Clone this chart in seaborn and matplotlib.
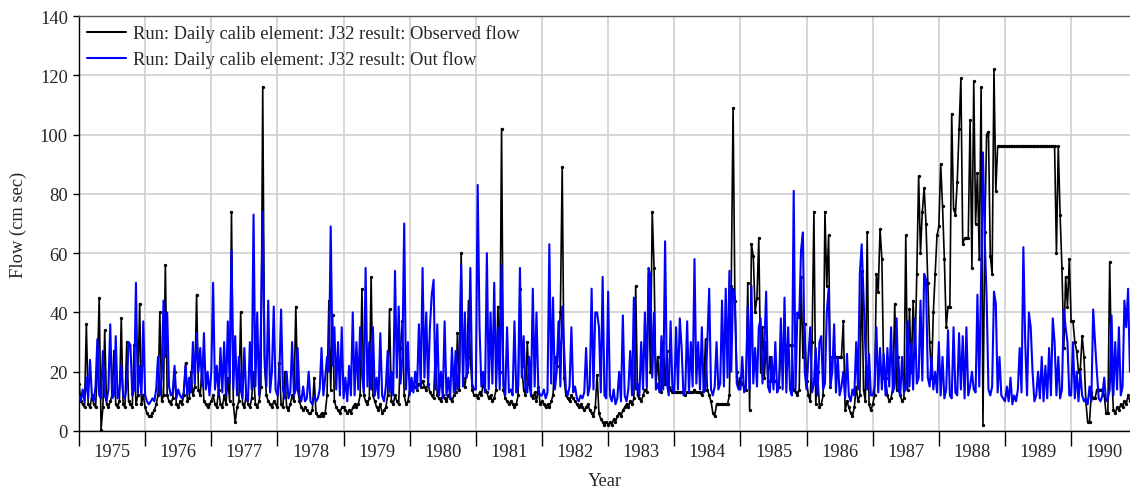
import numpy as np
import pandas as pd
import matplotlib
matplotlib.use("Agg")
import matplotlib.pyplot as plt
from matplotlib.lines import Line2D
from matplotlib.ticker import FixedLocator, NullFormatter, FixedFormatter
import seaborn as sns

# ---- data: values, ~10-day steps (36 per year) ----
years = list(range(1975, 1991))
obs_label = "Run: Daily calib element: J32 result: Observed flow"
out_label = "Run: Daily calib element: J32 result: Out flow"

obs_1975 = [16, 10, 9, 8, 36, 9, 8, 12, 9, 8, 20, 45, 0.5, 8, 34, 9, 8, 10, 12, 27, 9, 8, 10, 38, 9, 8, 30, 10, 9, 8, 29, 9, 12, 43, 9, 12]
out_1975 = [12, 10, 14, 10, 18, 11, 24, 12, 10, 15, 31, 12, 11, 27, 12, 10, 14, 36, 11, 12, 32, 11, 14, 22, 12, 11, 15, 30, 29, 12, 14, 50, 13, 22, 12, 37]
obs_1976 = [8, 6, 5, 5, 6, 7, 9, 12, 40, 10, 12, 56, 12, 10, 9, 11, 20, 9, 8, 10, 9, 12, 23, 10, 11, 20, 12, 15, 46, 14, 12, 22, 10, 9, 8, 9]
out_1976 = [12, 10, 9, 10, 11, 10, 14, 25, 12, 18, 44, 25, 40, 15, 12, 13, 22, 11, 14, 12, 11, 13, 22, 12, 18, 13, 30, 16, 33, 20, 28, 15, 33, 14, 20, 12]
obs_1977 = [10, 12, 9, 8, 14, 9, 8, 12, 9, 18, 10, 74, 9, 3, 8, 10, 40, 9, 8, 12, 9, 8, 11, 20, 9, 8, 10, 15, 116, 22, 12, 10, 9, 8, 10, 9]
out_1977 = [20, 50, 14, 22, 12, 28, 13, 30, 12, 37, 16, 61, 14, 32, 12, 25, 14, 11, 28, 12, 10, 30, 14, 73, 15, 40, 12, 35, 74, 25, 15, 44, 13, 20, 42, 14]
obs_1978 = [8, 23, 9, 8, 20, 8, 7, 9, 12, 10, 42, 14, 10, 8, 7, 8, 7, 6, 6, 7, 18, 6, 5, 5, 6, 5, 6, 12, 44, 14, 39, 10, 8, 7, 6, 8]
out_1978 = [12, 18, 41, 14, 11, 20, 11, 13, 30, 12, 14, 28, 12, 10, 15, 10, 11, 20, 10, 9, 12, 10, 11, 14, 28, 12, 18, 25, 20, 69, 22, 35, 14, 30, 12, 35]
obs_1979 = [8, 7, 6, 7, 6, 8, 9, 8, 9, 12, 48, 12, 10, 9, 11, 52, 12, 10, 8, 7, 9, 6, 7, 8, 12, 41, 10, 9, 12, 10, 9, 28, 37, 12, 9, 10]
out_1979 = [11, 18, 10, 22, 12, 40, 12, 30, 14, 35, 20, 13, 55, 15, 30, 14, 35, 12, 18, 11, 33, 12, 10, 15, 27, 13, 20, 12, 54, 18, 42, 16, 25, 70, 14, 30]
obs_1980 = [14, 15, 16, 15, 14, 16, 15, 17, 15, 14, 16, 13, 12, 11, 27, 12, 11, 10, 12, 11, 10, 12, 11, 10, 12, 13, 33, 14, 60, 18, 15, 20, 44, 25, 14, 12]
out_1980 = [12, 18, 13, 20, 14, 36, 15, 55, 18, 40, 15, 35, 46, 51, 14, 36, 12, 20, 11, 37, 12, 18, 11, 28, 13, 27, 14, 20, 56, 15, 40, 18, 22, 55, 16, 14]
obs_1981 = [12, 11, 13, 12, 16, 14, 13, 11, 12, 10, 11, 14, 42, 20, 102, 14, 11, 10, 9, 10, 9, 8, 9, 12, 48, 22, 14, 12, 30, 16, 12, 11, 13, 10, 15, 9]
out_1981 = [14, 83, 35, 15, 20, 13, 60, 14, 40, 16, 50, 15, 35, 14, 56, 16, 12, 35, 13, 14, 12, 37, 13, 15, 55, 18, 32, 14, 13, 25, 12, 48, 15, 40, 14, 12]
obs_1982 = [10, 9, 8, 9, 8, 10, 12, 25, 22, 30, 40, 89, 18, 12, 11, 10, 12, 11, 10, 9, 8, 9, 8, 7, 8, 9, 7, 6, 5, 8, 19, 6, 4, 3, 2, 3]
out_1982 = [12, 14, 11, 13, 63, 16, 45, 14, 20, 37, 15, 42, 28, 14, 12, 15, 35, 13, 15, 11, 10, 12, 11, 13, 28, 12, 15, 48, 14, 40, 40, 35, 13, 52, 12, 11]
obs_1983 = [2, 3, 2, 4, 3, 5, 6, 5, 7, 8, 9, 8, 10, 9, 11, 49, 12, 11, 10, 12, 14, 13, 53, 20, 74, 55, 15, 25, 14, 13, 30, 16, 27, 15, 14, 13]
out_1983 = [47, 12, 10, 14, 9, 11, 20, 10, 39, 12, 10, 14, 27, 12, 45, 14, 16, 12, 30, 14, 40, 15, 55, 52, 18, 40, 14, 16, 13, 32, 14, 64, 16, 12, 37, 14]
obs_1984 = [13, 13, 13, 13, 13, 13, 12, 13, 13, 13, 13, 14, 13, 13, 13, 12, 14, 31, 14, 12, 10, 6, 5, 9, 9, 9, 9, 9, 9, 9, 12, 49, 109, 44, 20, 15]
out_1984 = [13, 35, 14, 38, 28, 12, 14, 37, 13, 30, 15, 58, 16, 30, 14, 35, 13, 15, 30, 48, 14, 12, 15, 30, 14, 16, 44, 15, 48, 18, 54, 20, 48, 45, 16, 14]
obs_1985 = [18, 16, 15, 14, 50, 7, 63, 59, 40, 45, 65, 20, 35, 18, 30, 17, 25, 17, 17, 17, 16, 15, 29, 29, 29, 29, 29, 29, 29, 14, 13, 12, 14, 52, 25, 36]
out_1985 = [14, 25, 13, 15, 42, 14, 49, 16, 28, 15, 35, 38, 16, 28, 47, 15, 13, 25, 14, 30, 13, 15, 38, 14, 45, 13, 35, 14, 12, 81, 14, 40, 38, 61, 67, 20]
obs_1986 = [17, 12, 10, 30, 74, 9, 20, 8, 9, 12, 74, 49, 66, 15, 25, 25, 25, 25, 25, 25, 37, 7, 10, 8, 6, 5, 8, 15, 10, 12, 54, 14, 10, 67, 9, 7]
out_1986 = [14, 25, 35, 13, 16, 28, 12, 30, 32, 14, 16, 40, 48, 15, 20, 36, 13, 25, 12, 15, 20, 11, 26, 12, 10, 14, 12, 30, 14, 53, 63, 45, 28, 14, 26, 12]
obs_1987 = [9, 12, 53, 47, 68, 58, 18, 18, 12, 10, 11, 15, 43, 14, 25, 12, 10, 11, 66, 14, 41, 20, 44, 25, 53, 86, 60, 74, 82, 70, 50, 30, 18, 40, 53, 66]
out_1987 = [12, 15, 35, 13, 28, 14, 26, 12, 28, 15, 35, 13, 16, 38, 14, 12, 25, 13, 14, 37, 15, 30, 14, 38, 16, 18, 44, 17, 53, 51, 18, 15, 25, 14, 20, 13]
obs_1988 = [69, 90, 76, 58, 35, 42, 42, 107, 75, 73, 84, 102, 119, 63, 65, 65, 65, 105, 55, 118, 70, 87, 58, 116, 2, 67, 100, 101, 59, 53, 122, 81, 96, 96, 96, 96]
out_1988 = [30, 12, 25, 11, 14, 34, 12, 11, 35, 13, 12, 33, 14, 32, 11, 35, 12, 15, 20, 14, 13, 46, 15, 52, 94, 64, 45, 14, 12, 15, 47, 43, 13, 25, 12, 11]
obs_1989 = [96, 96, 96, 96, 96, 96, 96, 96, 96, 96, 96, 96, 96, 96, 96, 96, 96, 96, 96, 96, 96, 96, 96, 96, 96, 96, 96, 96, 60, 96, 73, 55, 28, 52, 42, 58]
out_1989 = [10, 15, 10, 18, 9, 12, 10, 14, 28, 13, 62, 30, 12, 40, 35, 20, 10, 12, 20, 11, 25, 10, 22, 11, 28, 12, 38, 30, 12, 25, 11, 14, 41, 35, 30, 12]
obs_1990 = [37, 37, 30, 27, 20, 21, 32, 25, 10, 3, 3, 13, 11, 11, 14, 14, 14, 14, 12, 6, 6, 57, 20, 7, 6, 8, 7, 9, 8, 10, 9, 12, 10]
out_1990 = [12, 30, 11, 20, 10, 20, 12, 10, 11, 9, 15, 10, 41, 30, 20, 11, 10, 12, 18, 10, 11, 14, 39, 12, 30, 14, 35, 12, 15, 44, 35, 48, 20]

obs_by_year = [obs_1975, obs_1976, obs_1977, obs_1978, obs_1979, obs_1980, obs_1981, obs_1982,
               obs_1983, obs_1984, obs_1985, obs_1986, obs_1987, obs_1988, obs_1989, obs_1990]
out_by_year = [out_1975, out_1976, out_1977, out_1978, out_1979, out_1980, out_1981, out_1982,
               out_1983, out_1984, out_1985, out_1986, out_1987, out_1988, out_1989, out_1990]

rows = []
for yr, o_vals, f_vals in zip(years, obs_by_year, out_by_year):
    for k, v in enumerate(o_vals):
        rows.append((yr + k / 36.0, v, obs_label))
    for k, v in enumerate(f_vals):
        rows.append((yr + k / 36.0, v, out_label))
df = pd.DataFrame(rows, columns=["Year", "Flow", "Series"])

# ---- plotting ----
sns.set_theme(style="white")
plt.rcParams["font.family"] = ["Liberation Serif", "DejaVu Serif"]

W, H = 1130, 489
fig = plt.figure(figsize=(W / 100, H / 100), dpi=100)
ax = fig.add_axes([79 / W, 57 / H, 1051 / W, 415 / H])

sns.lineplot(data=df[df.Series == obs_label], x="Year", y="Flow", color="black",
             lw=1.2, marker="o", markersize=2.4, markeredgewidth=0, estimator=None,
             ax=ax, legend=False, zorder=2)
sns.lineplot(data=df[df.Series == out_label], x="Year", y="Flow", color="#0000ff",
             lw=1.5, estimator=None, ax=ax, legend=False, zorder=3)

ax.set_xlim(1975, 1990.89)
ax.set_ylim(0, 140)

ax.xaxis.set_major_locator(FixedLocator(years))
ax.xaxis.set_major_formatter(NullFormatter())
ax.xaxis.set_minor_locator(FixedLocator([y + 0.5 for y in years]))
ax.xaxis.set_minor_formatter(FixedFormatter([str(y) for y in years]))
ax.tick_params(axis="x", which="major", length=11, width=1, direction="out",
               color="black", bottom=True)
ax.tick_params(axis="x", which="minor", length=0, pad=9, labelsize=13.3, bottom=True)
ax.set_yticks(range(0, 141, 20))
ax.tick_params(axis="y", which="major", length=4, width=1, direction="out",
               color="black", left=True, pad=4, labelsize=13.3)

ax.grid(True, which="major", color="#cfcfcf", lw=1.2)
ax.set_axisbelow(True)

for side in ["left", "bottom"]:
    ax.spines[side].set_color("black")
    ax.spines[side].set_linewidth(1.0)
ax.spines["top"].set_color("#555555")
ax.spines["top"].set_linewidth(1.0)
ax.spines["right"].set_visible(False)

ax.set_xlabel("Year", fontsize=13.3, labelpad=8)
ax.set_ylabel("Flow (cm sec)", fontsize=13.3, labelpad=9)

handles = [Line2D([], [], color="black", lw=1.5), Line2D([], [], color="#0000ff", lw=1.5)]
ax.legend(handles, [obs_label, out_label], loc="upper left", frameon=False,
          fontsize=13.3, handlelength=2.1, handletextpad=0.4, labelspacing=0.45,
          borderaxespad=0.25, borderpad=0.2)

fig.savefig("out.png", dpi=100)
